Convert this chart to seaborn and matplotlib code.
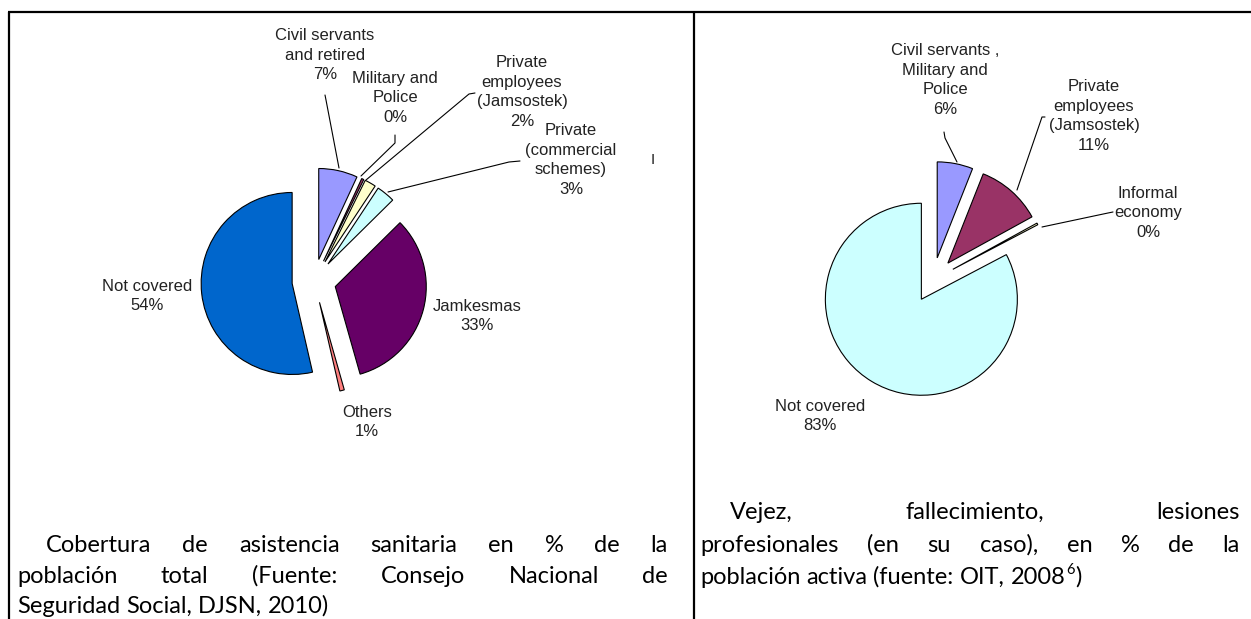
"""
Two exploded pie charts (coverage in Indonesia) laid out like a two-cell
document table with justified captions underneath.
"""

import matplotlib
matplotlib.use("Agg")
import matplotlib.pyplot as plt
import seaborn as sns

# -------------------------
# data
# -------------------------
health_names = ["Civil servants\nand retired", "Military and\nPolice",
                "Private\nemployees\n(Jamsostek)", "Private\n(commercial\nschemes)",
                "Jamkesmas", "Others", "Not covered"]
health_values = [6.9, 0.4, 2.0, 3.3, 33.0, 0.8, 53.6]
health_colors = ["#9999FF", "#993366", "#FFFFCC", "#CCFFFF", "#660066", "#FF8080", "#0066CC"]

pension_names = ["Civil servants ,\nMilitary and\nPolice", "Private\nemployees\n(Jamsostek)",
                 "Informal\neconomy", "Not covered"]
pension_values = [6.0, 11.0, 0.3, 82.7]
pension_colors = ["#9999FF", "#993366", "#FFFFCC", "#CCFFFF"]

caption_left = [
    "Cobertura de asistencia sanitaria en % de la",
    "población total (Fuente: Consejo Nacional de",
    "Seguridad Social, DJSN, 2010)",
]
caption_right = [
    "Vejez, fallecimiento, lesiones",
    "profesionales (en su caso), en % de la",
    "población activa (fuente: OIT, 2008",
]
footnote_mark = "6"

# -------------------------
# layout (pixel coordinates of the 1251x619 page)
# -------------------------
W, H = 1251, 619


def Y(y):
    return H - y


sns.set_theme(style="white")
plt.rcParams["font.family"] = ["Liberation Sans", "DejaVu Sans"]

fig = plt.figure(figsize=(W / 100, H / 100), dpi=100)
ax = fig.add_axes([0, 0, 1, 1])

wedge_style = dict(edgecolor="black", linewidth=0.8)

# left pie: health care coverage
ax.pie(health_values, colors=health_colors, startangle=90, counterclock=False,
       radius=91, center=(314, Y(281)), explode=[22] * len(health_values),
       wedgeprops=wedge_style, frame=True)

# right pie: old age / death / injury coverage
ax.pie(pension_values, colors=pension_colors, startangle=90, counterclock=False,
       radius=96, center=(933, Y(280)), explode=[22.5] * len(pension_values),
       wedgeprops=wedge_style, frame=True)

ax.set_xlim(0, W)
ax.set_ylim(0, H)
ax.set_aspect("auto")
ax.axis("off")

# data labels
label_kw = dict(ha="center", va="center", multialignment="center", fontsize=12,
                linespacing=1.38, color="#222222")
health_pos = [(325, 55), (395, 98), (522, 92), (571, 160), (477, 316), (367, 422), (147, 296)]
for name, val, (x, y) in zip(health_names, health_values, health_pos):
    ax.text(x, Y(y), f"{name}\n{val:.0f}%", **label_kw)

pension_pos = [(945, 80), (1094, 116), (1148, 213), (820, 416)]
for name, val, (x, y) in zip(pension_names, pension_values, pension_pos):
    ax.text(x, Y(y), f"{name}\n{val:.0f}%", **label_kw)

ax.text(653, Y(160), "I", ha="center", va="center", fontsize=11, color="#222222")

# leader lines
leaders = [
    [(325, 95), (326, 100), (339, 168)],
    [(395, 135), (395, 143), (361, 176)],
    [(475, 93), (469, 94), (366, 180)],
    [(520, 161), (509, 162), (388, 192)],
    [(944, 132), (945, 138), (957, 162)],
    [(1045, 117), (1042, 117), (1017, 190)],
    [(1113, 212), (1108, 213), (1042, 227)],
]
for pts in leaders:
    xs = [p[0] for p in pts]
    ys = [Y(p[1]) for p in pts]
    ax.plot(xs, ys, color="black", lw=0.8)

# table rules
rule = dict(color="black", lw=1.6, solid_capstyle="butt")
ax.plot([8, W], [Y(12), Y(12)], **rule)
ax.plot([9, 9], [Y(12), 0], **rule)
ax.plot([694, 694], [Y(12), 0], **rule)

# captions (justified like the word document)
cap_font = ["Lato", "DejaVu Sans"]
cap_size = 17
renderer = fig.canvas.get_renderer()


def put_line(text, x0, x1, y, justify):
    words = text.split(" ")
    items = [ax.text(0, Y(y), w, fontsize=cap_size, family=cap_font,
                     va="baseline", ha="left", color="black") for w in words]
    widths = [t.get_window_extent(renderer).width for t in items]
    if justify and len(words) > 1:
        gap = (x1 - x0 - sum(widths)) / (len(words) - 1)
    else:
        probe = ax.text(0, 0, "a a", fontsize=cap_size, family=cap_font)
        one = ax.text(0, 0, "aa", fontsize=cap_size, family=cap_font)
        gap = probe.get_window_extent(renderer).width - one.get_window_extent(renderer).width
        probe.remove()
        one.remove()
    x = x0
    for t, w in zip(items, widths):
        t.set_x(x)
        x += w + gap
    return x - gap


put_line(caption_left[0], 46, 668, 552, True)
put_line(caption_left[1], 17, 668, 583, True)
put_line(caption_left[2], 17, 668, 613, False)

put_line(caption_right[0], 730, 1240, 519, True)
put_line(caption_right[1], 700, 1240, 552, True)
end = put_line(caption_right[2], 700, 1240, 584, False)
sup = ax.text(end + 1, Y(574), footnote_mark, fontsize=cap_size * 0.62, family=cap_font,
              va="baseline", ha="left", color="black")
end2 = end + 1 + sup.get_window_extent(renderer).width
ax.text(end2 + 1, Y(584), ")", fontsize=cap_size, family=cap_font,
        va="baseline", ha="left", color="black")

fig.savefig("out.png", dpi=100, facecolor="white")
plt.close(fig)
